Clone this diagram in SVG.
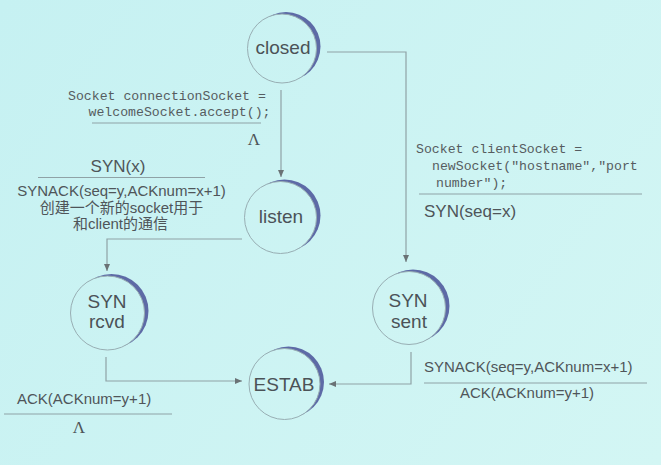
<svg xmlns="http://www.w3.org/2000/svg" width="661" height="465" viewBox="0 0 661 465">
<defs>
<linearGradient id="bg" gradientUnits="userSpaceOnUse" x1="0" y1="0" x2="661" y2="465">
<stop offset="0" stop-color="#c6f1f2"/>
<stop offset="1" stop-color="#d3f6f4"/>
</linearGradient>
<marker id="arr" markerWidth="8" markerHeight="7" refX="7" refY="3" orient="auto" markerUnits="userSpaceOnUse">
<path d="M0,0 L7,3 L0,6 z" fill="#6a7275"/>
</marker>
<style>
.shade{fill:#5d6aa6}
.node{fill:url(#bg);stroke:#98aeb3;stroke-width:1}
.nt{font-family:"Liberation Sans",Arial,sans-serif;font-size:19px;fill:#4b5257;text-anchor:middle}
.edge{fill:none;stroke:#8fa2a6;stroke-width:1.2;marker-end:url(#arr)}
.sep{fill:none;stroke:#8fa2a6;stroke-width:1}
.mono{font-family:"Liberation Mono","Courier New",monospace;font-size:13.2px;fill:#565c60}
.lb{font-family:"Liberation Sans","Noto Sans CJK SC",Arial,sans-serif;font-size:15px;fill:#4f5559}
.lbl{font-family:"Liberation Sans",Arial,sans-serif;font-size:17px;fill:#4f5559}
.lam{font-family:"Liberation Serif","Times New Roman",serif;font-size:17px;fill:#4f5559;text-anchor:middle}
.c{text-anchor:middle}
</style>
</defs>
<rect width="661" height="465" fill="url(#bg)"/>

<g id="connectors">
<path class="edge" d="M327,52 H406 V262"/>
<path class="edge" d="M281,90 V177"/>
<path class="edge" d="M242,239 H107 V271"/>
<path class="edge" d="M106,357 V381 H242"/>
<path class="edge" d="M411,352 V384 H329"/>
</g>

<g id="closed">
<circle class="shade" cx="286" cy="46.5" r="34.5"/>
<circle class="node" cx="282" cy="48.5" r="34.5"/>
<text class="nt" x="283" y="54">closed</text>
</g>

<g id="listen">
<circle class="shade" cx="284.5" cy="215.5" r="36"/>
<circle class="node" cx="280.5" cy="217.5" r="36"/>
<text class="nt" x="281" y="223">listen</text>
</g>

<g id="syn-rcvd">
<circle class="shade" cx="111.5" cy="311" r="37"/>
<circle class="node" cx="107.5" cy="313" r="37"/>
<text class="nt" x="107" y="308">SYN</text>
<text class="nt" x="107" y="328">rcvd</text>
</g>

<g id="syn-sent">
<circle class="shade" cx="413" cy="306" r="36.5"/>
<circle class="node" cx="409" cy="308" r="36.5"/>
<text class="nt" x="408" y="307">SYN</text>
<text class="nt" x="409" y="328">sent</text>
</g>

<g id="estab">
<circle class="shade" cx="288.5" cy="382" r="35.5"/>
<circle class="node" cx="284.5" cy="384" r="35.5"/>
<text class="nt" x="284" y="391">ESTAB</text>
</g>

<g id="label-closed-listen">
<text class="mono" x="68" y="100">Socket connectionSocket =</text>
<text class="mono" x="88.5" y="116">welcomeSocket.accept();</text>
<path class="sep" d="M92,123 H261"/>
<text class="lam" x="254" y="145">Λ</text>
</g>

<g id="label-closed-sent">
<text class="mono" x="416" y="153">Socket clientSocket =</text>
<text class="mono" x="432" y="170">newSocket("hostname","port</text>
<text class="mono" x="436" y="187">number");</text>
<path class="sep" d="M419,194 H642"/>
<text class="lbl" x="424" y="217">SYN(seq=x)</text>
</g>

<g id="label-listen-rcvd">
<text class="lbl c" x="118" y="172">SYN(x)</text>
<path class="sep" d="M38,177.5 H205"/>
<text class="lb c" x="121.5" y="196">SYNACK(seq=y,ACKnum=x+1)</text>
<text class="lb c" x="121.5" y="213">创建一个新的socket用于</text>
<text class="lb c" x="120.5" y="229">和client的通信</text>
</g>

<g id="label-sent-estab">
<text class="lb" x="424" y="372">SYNACK(seq=y,ACKnum=x+1)</text>
<path class="sep" d="M424,383 H647"/>
<text class="lb c" x="527" y="398">ACK(ACKnum=y+1)</text>
</g>

<g id="label-rcvd-estab">
<text class="lb" x="17" y="404">ACK(ACKnum=y+1)</text>
<path class="sep" d="M4,414 H172"/>
<text class="lam" x="79" y="433">Λ</text>
</g>
</svg>
